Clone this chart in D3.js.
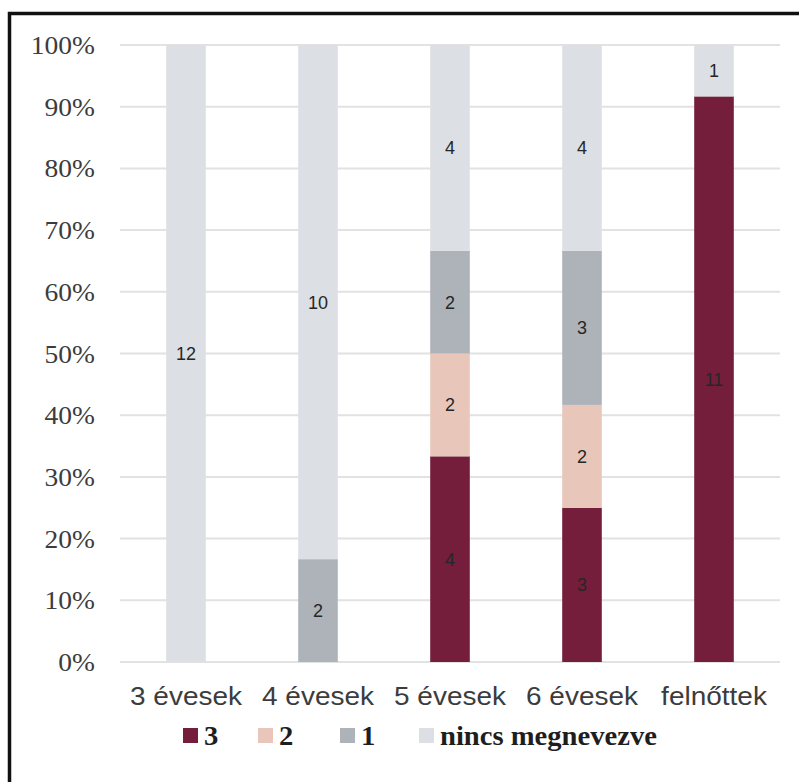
<!DOCTYPE html>
<html>
<head>
<meta charset="utf-8">
<script src="https://cdn.jsdelivr.net/npm/d3@7"></script>
<style>
  html, body { margin: 0; padding: 0; background: #fff; }
  svg { display: block; }
</style>
</head>
<body>
<svg id="chart" width="799" height="782"></svg>
<script>
// Age groups along the x axis
const categories = ["3 évesek", "4 évesek", "5 évesek", "6 évesek", "felnőttek"];
// Series, bottom to top in each stack
const seriesNames = ["3", "2", "1", "nincs megnevezve"];
const values3 = [0, 0, 4, 3, 11];
const values2 = [0, 0, 2, 2, 0];
const values1 = [0, 2, 2, 3, 0];
const valuesNone = [12, 10, 4, 4, 1];
const seriesColors = ["#741e3c", "#e8c6b9", "#aeb2b9", "#dcdfe4"];
const yTicks = [0, 0.1, 0.2, 0.3, 0.4, 0.5, 0.6, 0.7, 0.8, 0.9, 1];

const svg = d3.select("#chart");

// Frame around the figure
svg.append("rect")
  .attr("x", 9.5).attr("y", 13.5)
  .attr("width", 830).attr("height", 800)
  .attr("fill", "none").attr("stroke", "#111").attr("stroke-width", 3.5);

const plot = { left: 120, right: 780, top: 45, bottom: 662 };

const rows = categories.map((c, i) => ({
  cat: c,
  "3": values3[i], "2": values2[i], "1": values1[i], "nincs megnevezve": valuesNone[i]
}));
const stacked = d3.stack().keys(seriesNames).offset(d3.stackOffsetExpand)(rows);

const x = d3.scaleBand().domain(categories).range([plot.left, plot.right]).paddingInner(0.7).paddingOuter(0.35);
const y = d3.scaleLinear().domain([0, 1]).range([plot.bottom, plot.top]);

// Gridlines
svg.append("g").selectAll("line").data(yTicks).join("line")
  .attr("x1", plot.left).attr("x2", plot.right)
  .attr("y1", d => y(d)).attr("y2", d => y(d))
  .attr("stroke", "#e2e2e2").attr("stroke-width", 2);

// Y axis labels (slightly wide serif)
const yAxis = d3.axisLeft(y).tickValues(yTicks).tickFormat(d3.format(".0%")).tickSize(0).tickPadding(0);
const yg = svg.append("g").attr("transform", `translate(95,0)`).call(yAxis);
yg.select(".domain").remove();
yg.selectAll("text")
  .attr("x", 0)
  .attr("transform", "scale(1.1,1)")
  .attr("font-family", "'Liberation Serif', 'Times New Roman', serif")
  .attr("font-size", 25).attr("fill", "#3c3c3c").attr("dy", "0.34em");

// Bars
const layers = svg.append("g").selectAll("g").data(stacked).join("g")
  .attr("fill", (d, i) => seriesColors[i]);
layers.selectAll("rect").data(d => d.filter(s => s[1] - s[0] > 0)).join("rect")
  .attr("x", d => x(d.data.cat))
  .attr("width", x.bandwidth())
  .attr("y", d => y(d[1]))
  .attr("height", d => y(d[0]) - y(d[1]));

// Segment value labels
stacked.forEach(layer => {
  svg.append("g").selectAll("text")
    .data(layer.filter(s => s[1] - s[0] > 0))
    .join("text")
    .attr("x", d => x(d.data.cat) + x.bandwidth() / 2)
    .attr("y", d => y((d[0] + d[1]) / 2))
    .attr("dy", "0.36em")
    .attr("text-anchor", "middle")
    .attr("font-family", "'Liberation Sans', Arial, sans-serif")
    .attr("font-size", 18)
    .attr("fill", "#262626")
    .text(d => d.data[layer.key]);
});

// X axis labels
const xAxis = d3.axisBottom(x).tickSize(0).tickPadding(0);
const xg = svg.append("g").attr("transform", `translate(0,705)`).call(xAxis);
xg.select(".domain").remove();
xg.selectAll("text")
  .attr("dy", 0).attr("y", 0)
  .attr("transform", "scale(1.12,1)")
  .attr("font-family", "'Liberation Sans', Arial, sans-serif")
  .attr("font-size", 25).attr("fill", "#3c3c3c");

// Legend
const legendX = [183, 258, 340, 419];
const legend = svg.append("g").selectAll("g").data(seriesNames).join("g")
  .attr("transform", (d, i) => `translate(${legendX[i]},728)`);
legend.append("rect").attr("width", 15).attr("height", 15)
  .attr("fill", (d, i) => seriesColors[i]);
legend.append("text")
  .attr("transform", "translate(21,17) scale(1.06,1)")
  .attr("font-family", "'Liberation Serif', 'Times New Roman', serif")
  .attr("font-weight", "bold").attr("font-size", 27).attr("fill", "#1e1e1e")
  .text(d => d);
</script>
</body>
</html>
